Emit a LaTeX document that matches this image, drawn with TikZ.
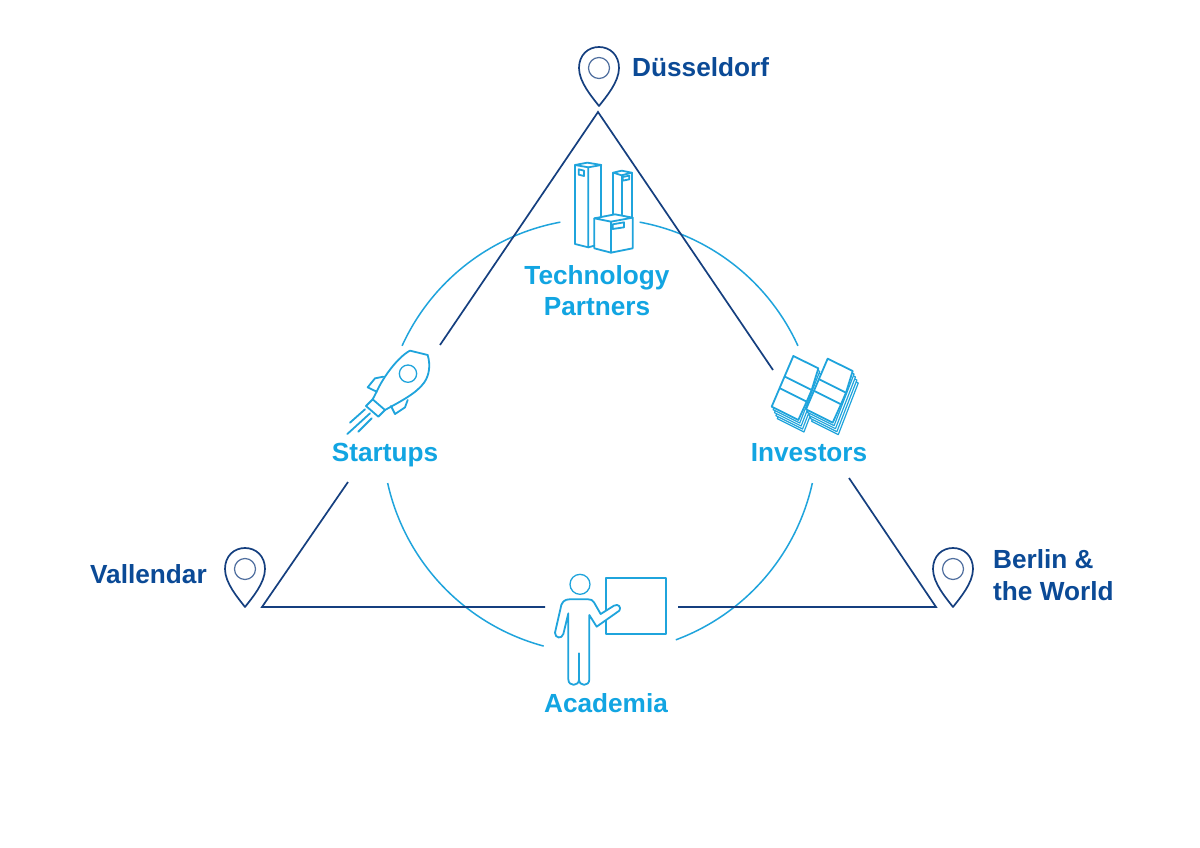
\documentclass[tikz,border=0pt]{standalone}
\usepackage{fontspec}
\setmainfont{Liberation Sans}
\definecolor{lightc}{HTML}{12A5E2}
\definecolor{darkc}{HTML}{0B4A96}
\definecolor{linec}{HTML}{153F7F}
\definecolor{arcc}{HTML}{1FA4DC}
\tikzset{
  lbl/.style={font=\fontsize{26.2}{31}\selectfont\bfseries,inner sep=0pt,anchor=base},
  llight/.style={lbl,text=lightc},
  ldark/.style={lbl,text=darkc},
  tri/.style={draw=linec,line width=1.7pt,line join=miter},
  ring/.style={draw=arcc,line width=1.5pt},
  icon/.style={draw=arcc,line width=1.8pt,line join=round,line cap=round,fill=white},
  iconl/.style={draw=arcc,line width=1.8pt,line join=round,line cap=round},
  pin/.style={draw=linec,line width=1.7pt,line join=round},
  zoomed/.style={x=0.33333pt,y=-0.33333pt}
}
\begin{document}
\begin{tikzpicture}[x=1pt,y=-1pt]
\useasboundingbox (0,0) rectangle (1200,848);
\fill[white] (0,0) rectangle (1200,848);
% ring
\coordinate (ctr) at (600,436);
\draw[ring] (ctr) ++(-100.5:217.5) arc[start angle=-100.5,end angle=-155.5,radius=217.5];
\draw[ring] (ctr) ++(-79.5:217.5) arc[start angle=-79.5,end angle=-24.5,radius=217.5];
\draw[ring] (ctr) ++(167.5:217.5) arc[start angle=167.5,end angle=105,radius=217.5];
\draw[ring] (ctr) ++(12.5:217.5) arc[start angle=12.5,end angle=69.6,radius=217.5];
% triangle
\coordinate (apex) at (598,112);
\coordinate (vl) at (262,607);
\coordinate (vr) at (936,607);
\coordinate (a1) at (440,345);
\coordinate (a2) at (773,370);
\coordinate (b1) at (348,482);
\coordinate (b2) at (545,607);
\coordinate (c1) at (849,478);
\coordinate (c2) at (678,607);
\draw[tri] (a1) -- (apex) -- (a2);
\draw[tri] (b1) -- (vl) -- (b2);
\draw[tri] (c1) -- (vr) -- (c2);
% pins
\foreach \tx/\ty in {599/106,245/607,953/607}{
  \begin{scope}[shift={(\tx,\ty)}]
    \draw[pin] (0,0) .. controls (-7,-9) and (-20,-24) .. (-20,-38)
       .. controls (-20,-51) and (-11,-59) .. (0,-59)
       .. controls (11,-59) and (20,-51) .. (20,-38)
       .. controls (20,-24) and (7,-9) .. (0,0) -- cycle;
    \draw[draw=linec!75,line width=1.2pt] (0,-38) circle[radius=10.5];
  \end{scope}
}
% buildings
\begin{scope}[shift={(500,30)},zoomed]
  \draw[iconl] (225,405) -- (262,398) -- (304,405) -- (265,412) -- cycle;
  \draw[iconl] (225,405) -- (225,642) -- (265,652) -- (265,412);
  \draw[iconl] (304,405) -- (304,560);
  \draw[iconl] (265,652) -- (283,647);
  \draw[iconl] (236,418) -- (252,422) -- (252,438) -- (236,434) -- cycle;
  \draw[iconl] (340,428) -- (365,422) -- (395,428) -- (365,436) -- cycle;
  \draw[iconl] (340,428) -- (340,555);
  \draw[iconl] (365,436) -- (365,553);
  \draw[iconl] (395,428) -- (395,560);
  \draw[iconl] (368,441) -- (388,437) -- (388,448) -- (368,452) -- cycle;
  \draw[icon] (283,565) -- (345,553) -- (398,563) -- (333,575) -- cycle;
  \draw[iconl] (283,565) -- (283,655) -- (333,668) -- (398,655) -- (398,563);
  \draw[iconl] (333,575) -- (333,668);
  \draw[iconl] (338,583) -- (372,577) -- (372,592) -- (338,597) -- cycle;
\end{scope}
% rocket
\begin{scope}[shift={(330,330)},zoomed]
  \draw[iconl] (128,208) -- (140,185) .. controls (160,140) and (205,80) .. (240,62) -- (293,75)
     .. controls (302,105) and (298,135) .. (283,157) .. controls (260,190) and (210,215) .. (165,240);
  \draw[iconl] (108,228) -- (128,208) -- (165,240) -- (145,260) -- cycle;
  \draw[iconl] (160,140) -- (135,145) -- (113,172) -- (140,185);
  \draw[iconl] (233,210) -- (225,232) -- (195,252) -- (183,228);
  \draw[iconl,line width=1.3pt] (234,131) circle[radius=26];
  \draw[iconl] (60,278) -- (105,238);
  \draw[iconl] (52,312) -- (120,250);
  \draw[iconl] (85,305) -- (125,265);
\end{scope}
% money stacks
\begin{scope}[shift={(750,340)},zoomed]
  \foreach \dx/\dy in {0/0,103/8}{
    \begin{scope}[shift={(\dx,\dy)}]
      \foreach \k in {4,3,2,1}{
        \draw[icon,line width=1.2pt] ({65+\k*4.2},{200+\k*9}) -- ({145+\k*4.2},{240+\k*9}) -- ({205+\k*4.2},{85+\k*9}) -- ({130+\k*4.2},{48+\k*9}) -- cycle;
      }
      \draw[icon] (130,48) -- (205,85) -- (185,150) -- (170,185) -- (145,240) -- (65,200) -- cycle;
      \draw[iconl] (105,110) -- (185,150);
      \draw[iconl] (90,145) -- (170,185);
    \end{scope}
  }
\end{scope}
% person
\begin{scope}[shift={(530,560)},zoomed]
  \draw[iconl] (227,55) rectangle (408,222);
  \draw[iconl,line width=1.3pt] (150,73) circle[radius=30];
  \draw[icon] (115,160) -- (115,358) .. controls (115,380) and (147,380) .. (147,358) -- (147,280)
     (147,358) .. controls (147,380) and (178,380) .. (178,358) -- (178,165) -- (200,200) -- (268,152)
     .. controls (275,142) and (265,130) .. (252,137) -- (212,162) -- (192,127)
     .. controls (188,120) and (182,118) .. (175,118) -- (118,118)
     .. controls (105,118) and (98,125) .. (94,135) -- (75,218)
     .. controls (75,235) and (95,238) .. (100,222) -- (115,160);
\end{scope}
% labels
\node[ldark,anchor=base west] (dus) at (632,77) {Düsseldorf};
\node[ldark,anchor=base west] (val) at (90,583) {Vallendar};
\node[ldark,anchor=base west] (ber) at (993,568) {Berlin \&};
\node[ldark,anchor=base west] (wor) at (993,600) {the World};
\node[llight] (tech) at (597,284) {Technology};
\node[llight] (part) at (597,315) {Partners};
\node[llight] (start) at (385,461) {Startups};
\node[llight] (inv) at (809,461) {Investors};
\node[llight] (acad) at (606,712) {Academia};
\end{tikzpicture}
\end{document}
